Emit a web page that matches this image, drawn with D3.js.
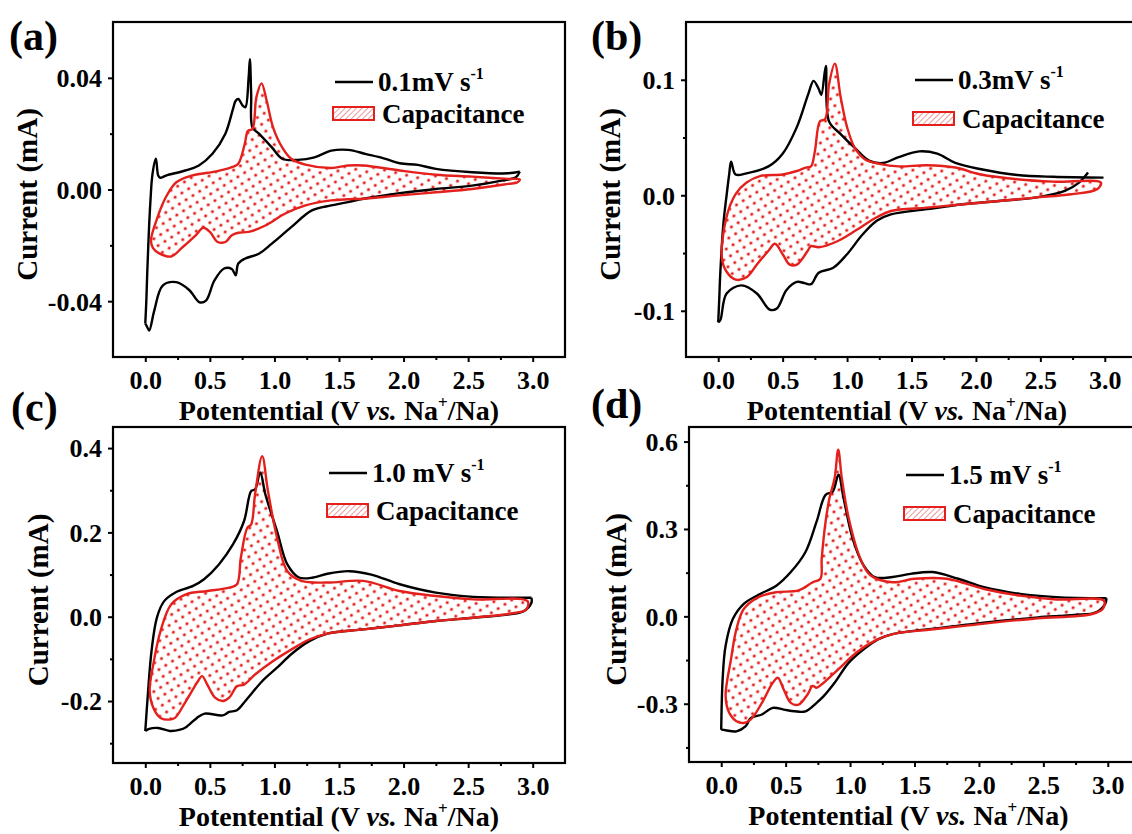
<!DOCTYPE html>
<html>
<head>
<meta charset="utf-8">
<script src="https://cdnjs.cloudflare.com/ajax/libs/d3/7.8.5/d3.min.js"></script>
<style>
    body { margin: 0; background: #fff; }
    svg text { font-family: "Liberation Serif", "Times New Roman", serif; font-weight: bold; fill: #000; }
</style>
</head>
<body>
<div id="graph"></div>
<script>
/*
    Data, pairs are [potential (V), current (mA)]
*/
var panelLabels = ["(a)", "(b)", "(c)", "(d)"]
var scanRates = ["0.1mV s", "0.3mV s", "1.0 mV s", "1.5 mV s"]
var xTicks = [0, 0.5, 1.0, 1.5, 2.0, 2.5, 3.0]
var xMinor = [0.25, 0.75, 1.25, 1.75, 2.25, 2.75]

var yTicksA = [-0.04, 0, 0.04], yMinorA = [-0.02, 0.02]
var yTicksB = [-0.1, 0, 0.1],   yMinorB = [-0.05, 0.05]
var yTicksC = [-0.2, 0, 0.2, 0.4], yMinorC = [-0.3, -0.1, 0.1, 0.3]
var yTicksD = [-0.3, 0, 0.3, 0.6], yMinorD = [-0.45, -0.15, 0.15, 0.45]

// (a) 0.1 mV/s
var cvUpperA = [[0,-0.048],[0.008,-0.04],[0.015,-0.03],[0.025,-0.018],[0.04,-0.004],[0.056,0.0056],[0.082,0.011],
    [0.1,0.005],[0.115,0.0042],[0.16,0.005],[0.31,0.0068],[0.415,0.0086],[0.52,0.0128],[0.62,0.020],[0.68,0.029],
    [0.70,0.0318],[0.72,0.0324],[0.755,0.030],[0.775,0.0295],[0.80,0.040],[0.81,0.0467],[0.82,0.034],[0.83,0.0222],
    [0.88,0.020],[0.98,0.0151],[1.06,0.011],[1.18,0.0106],[1.31,0.0115],[1.44,0.0139],[1.57,0.0142],[1.71,0.0127],
    [1.86,0.011],[1.97,0.0094],[2.11,0.0088],[2.25,0.0074],[2.53,0.0062],[2.81,0.0058],[2.9,0.0064]]
var cvLowerA = [[2.9,0.0064],[2.87,0.0044],[2.76,0.0032],[2.53,0.0014],[2.25,0.0002],[1.97,-0.0013],[1.69,-0.0033],
    [1.57,-0.0045],[1.44,-0.0057],[1.29,-0.0075],[1.13,-0.0135],[0.98,-0.0194],[0.88,-0.023],[0.77,-0.0248],
    [0.72,-0.0265],[0.70,-0.0307],[0.67,-0.0285],[0.61,-0.0283],[0.535,-0.0326],[0.47,-0.0398],[0.42,-0.0404],
    [0.34,-0.036],[0.24,-0.0332],[0.135,-0.0344],[0.07,-0.0433],[0.03,-0.0505],[0.012,-0.049],[0,-0.048]]
var capA = [[0.044,-0.0182],[0.095,-0.0099],[0.16,-0.0027],[0.24,0.0026],[0.36,0.005],[0.55,0.0065],[0.67,0.008],
    [0.72,0.0092],[0.77,0.0163],[0.795,0.021],[0.83,0.0217],[0.86,0.033],[0.90,0.038],[0.94,0.0318],[0.99,0.0222],
    [1.06,0.0151],[1.13,0.011],[1.24,0.0089],[1.44,0.0077],[1.57,0.0086],[1.69,0.0086],[1.97,0.0068],[2.25,0.0053],
    [2.53,0.0046],[2.81,0.0038],[2.9,0.0036],[2.88,0.0025],[2.81,0.002],[2.53,0.0002],[2.25,-0.001],[1.97,-0.0021],
    [1.69,-0.0033],[1.57,-0.0035],[1.44,-0.0039],[1.24,-0.0057],[1.08,-0.0087],[0.93,-0.0129],[0.80,-0.0152],
    [0.72,-0.0155],[0.67,-0.0164],[0.62,-0.0188],[0.56,-0.0188],[0.50,-0.0152],[0.45,-0.0137],[0.39,-0.0164],
    [0.29,-0.0206],[0.2,-0.024],[0.108,-0.0229],[0.06,-0.021]]

// (b) 0.3 mV/s
var cvUpperB = [[0,-0.110],[0.008,-0.09],[0.015,-0.07],[0.04,-0.025],[0.065,0.0],[0.085,0.018],[0.10,0.029],
    [0.135,0.018],[0.22,0.019],[0.39,0.025],[0.5,0.036],[0.61,0.059],[0.7,0.088],[0.74,0.099],[0.78,0.092],
    [0.8,0.087],[0.835,0.112],[0.86,0.064],[0.95,0.053],[1.06,0.041],[1.17,0.030],[1.28,0.028],[1.4,0.033],
    [1.56,0.038],[1.7,0.036],[1.84,0.028],[2.04,0.0225],[2.32,0.0176],[2.6,0.016],[2.99,0.0153]]
var cvLowerB = [[2.87,0.0197],[2.8,0.011],[2.69,0.0038],[2.46,-0.002],[2.18,-0.0049],[1.9,-0.0078],[1.62,-0.012],
    [1.34,-0.0165],[1.23,-0.022],[1.12,-0.034],[1.0,-0.051],[0.89,-0.063],[0.78,-0.067],[0.72,-0.077],[0.67,-0.076],
    [0.61,-0.075],[0.53,-0.082],[0.455,-0.098],[0.4,-0.099],[0.3,-0.085],[0.18,-0.078],[0.065,-0.085],[0.017,-0.108],[0,-0.110]]
var capB = [[0.028,-0.054],[0.064,-0.019],[0.135,0.001],[0.22,0.011],[0.33,0.0168],[0.5,0.018],[0.61,0.021],
    [0.68,0.024],[0.72,0.025],[0.75,0.038],[0.79,0.064],[0.83,0.066],[0.86,0.096],[0.905,0.114],[0.95,0.085],
    [1.0,0.059],[1.06,0.041],[1.14,0.031],[1.26,0.027],[1.4,0.025],[1.62,0.026],[1.84,0.024],[2.04,0.018],
    [2.32,0.0139],[2.6,0.0118],[2.97,0.011],[2.94,0.0052],[2.74,0.0009],[2.46,-0.002],[2.18,-0.0049],[1.9,-0.0078],
    [1.62,-0.0107],[1.34,-0.0136],[1.23,-0.019],[1.06,-0.031],[0.92,-0.04],[0.78,-0.045],[0.72,-0.044],
    [0.695,-0.048],[0.61,-0.06],[0.555,-0.06],[0.5,-0.051],[0.44,-0.042],[0.39,-0.048],[0.3,-0.06],[0.22,-0.071],
    [0.135,-0.073],[0.064,-0.066]]

// (c) 1.0 mV/s
var cvUpperC = [[0,-0.271],[0.02,-0.184],[0.048,-0.082],[0.09,-0.002],[0.146,0.037],[0.23,0.057],[0.37,0.073],
    [0.455,0.089],[0.57,0.124],[0.68,0.172],[0.765,0.227],[0.82,0.298],[0.85,0.302],[0.89,0.342],[0.93,0.29],
    [1.02,0.203],[1.1,0.124],[1.19,0.093],[1.3,0.093],[1.41,0.102],[1.58,0.108],[1.75,0.1],[1.97,0.077],
    [2.25,0.057],[2.54,0.047],[2.99,0.045]]
var cvLowerC = [[2.99,0.045],[2.99,0.033],[2.93,0.013],[2.82,0.0055],[2.54,-0.0024],[2.25,-0.0103],[1.97,-0.0206],
    [1.69,-0.03],[1.41,-0.04],[1.27,-0.058],[1.13,-0.089],[1.02,-0.121],[0.905,-0.153],[0.78,-0.198],[0.71,-0.222],
    [0.65,-0.226],[0.6,-0.234],[0.46,-0.23],[0.4,-0.24],[0.315,-0.262],[0.27,-0.268],[0.19,-0.271],[0.1,-0.264],
    [0.03,-0.266],[0,-0.271]]
var capC = [[0.034,-0.176],[0.062,-0.113],[0.118,-0.034],[0.2,0.029],[0.315,0.053],[0.48,0.061],[0.65,0.069],
    [0.71,0.077],[0.74,0.14],[0.79,0.211],[0.82,0.219],[0.85,0.29],[0.905,0.381],[0.95,0.298],[1.02,0.188],
    [1.1,0.108],[1.21,0.085],[1.41,0.081],[1.69,0.085],[1.97,0.061],[2.25,0.049],[2.54,0.041],[2.96,0.037],
    [2.95,0.017],[2.87,0.0095],[2.54,-0.0024],[2.25,-0.0103],[1.97,-0.0206],[1.69,-0.03],[1.41,-0.04],
    [1.27,-0.054],[1.13,-0.078],[0.99,-0.105],[0.85,-0.137],[0.765,-0.161],[0.71,-0.165],[0.65,-0.192],
    [0.6,-0.2],[0.54,-0.192],[0.48,-0.161],[0.44,-0.141],[0.4,-0.157],[0.315,-0.2],[0.23,-0.24],[0.19,-0.244],
    [0.118,-0.24],[0.062,-0.216]]

// (d) 1.5 mV/s
var cvUpperD = [[0,-0.389],[0.011,-0.216],[0.034,-0.101],[0.09,-0.009],[0.175,0.043],[0.29,0.074],[0.43,0.106],
    [0.54,0.152],[0.654,0.221],[0.74,0.325],[0.81,0.417],[0.865,0.428],[0.91,0.486],[0.95,0.405],[1.02,0.267],
    [1.105,0.175],[1.19,0.135],[1.33,0.135],[1.47,0.146],[1.64,0.152],[1.84,0.129],[2.04,0.1],[2.32,0.077],
    [2.6,0.066],[2.99,0.062]]
var cvLowerD = [[2.99,0.062],[2.98,0.043],[2.91,0.014],[2.74,0.0046],[2.46,-0.0035],[2.18,-0.015],[1.9,-0.029],
    [1.61,-0.044],[1.33,-0.061],[1.22,-0.078],[1.105,-0.113],[0.99,-0.159],[0.88,-0.228],[0.795,-0.274],
    [0.74,-0.297],[0.654,-0.326],[0.57,-0.326],[0.485,-0.32],[0.4,-0.314],[0.316,-0.337],[0.23,-0.349],
    [0.19,-0.377],[0.118,-0.395],[0.034,-0.391],[0,-0.389]]
var capD = [[0.034,-0.274],[0.076,-0.147],[0.118,-0.044],[0.175,0.025],[0.29,0.066],[0.43,0.083],[0.6,0.089],
    [0.71,0.117],[0.77,0.129],[0.78,0.198],[0.81,0.325],[0.84,0.405],[0.88,0.474],[0.908,0.572],[0.936,0.474],
    [0.99,0.336],[1.08,0.198],[1.16,0.14],[1.33,0.117],[1.5,0.129],[1.75,0.129],[2.04,0.094],[2.32,0.071],
    [2.6,0.058],[2.97,0.054],[2.96,0.025],[2.88,0.008],[2.46,-0.007],[2.18,-0.018],[1.9,-0.032],[1.61,-0.046],
    [1.33,-0.061],[1.19,-0.084],[1.05,-0.124],[0.908,-0.182],[0.795,-0.228],[0.74,-0.245],[0.71,-0.239],
    [0.67,-0.268],[0.6,-0.303],[0.54,-0.297],[0.485,-0.251],[0.44,-0.211],[0.4,-0.228],[0.316,-0.297],
    [0.23,-0.354],[0.175,-0.366],[0.118,-0.36],[0.062,-0.331]]

/*
    Panel layout (pixels) and per panel settings
*/
var panels = [
    { label: panelLabels[0], rate: scanRates[0], upper: cvUpperA, lower: cvLowerA, cap: capA,
      yDomain: [-0.06, 0.06], yTicks: yTicksA, yMinor: yMinorA, yFmt: ".2f",
      left: 113, right: 565, top: 22, bottom: 357, ylabX: 37, labX: 9, labY: 50,
      legX: 335, legY: 82, boxY: 107 },
    { label: panelLabels[1], rate: scanRates[1], upper: cvUpperB, lower: cvLowerB, cap: capB,
      yDomain: [-0.14, 0.15], yTicks: yTicksB, yMinor: yMinorB, yFmt: ".1f",
      left: 686, right: 1137, top: 22, bottom: 357, ylabX: 620, labX: 591, labY: 50,
      legX: 915, legY: 80, boxY: 112 },
    { label: panelLabels[2], rate: scanRates[2], upper: cvUpperC, lower: cvLowerC, cap: capC,
      yDomain: [-0.347, 0.45], yTicks: yTicksC, yMinor: yMinorC, yFmt: ".1f",
      left: 113, right: 565, top: 427, bottom: 763, ylabX: 48, labX: 11, labY: 421,
      legX: 329, legY: 473, boxY: 504 },
    { label: panelLabels[3], rate: scanRates[3], upper: cvUpperD, lower: cvLowerD, cap: capD,
      yDomain: [-0.5, 0.65], yTicks: yTicksD, yMinor: yMinorD, yFmt: ".1f",
      left: 689, right: 1140, top: 427, bottom: 762, ylabX: 626, labX: 591, labY: 418,
      legX: 906, legY: 475, boxY: 507 }
]

var red = "#e3201c"
var locale = d3.formatLocale({ decimal: ".", thousands: ",", grouping: [3], currency: ["", ""], minus: "-" })

var svg = d3.select("#graph").append("svg")
    .attr("width", 1132)
    .attr("height", 834)

svg.append("rect").attr("width", 1132).attr("height", 834).attr("fill", "#fff")

var defs = svg.append("defs")

// dotted fill of the capacitive area
var dots = defs.append("pattern")
    .attr("id", "dots")
    .attr("patternUnits", "userSpaceOnUse")
    .attr("width", 8)
    .attr("height", 8)
    .attr("patternTransform", "rotate(-32)")
dots.append("rect").attr("width", 8).attr("height", 8).attr("fill", "#fff")
dots.append("circle").attr("cx", 4).attr("cy", 4).attr("r", 1.6).attr("fill", red)

// hatch for the legend box
var hatch = defs.append("pattern")
    .attr("id", "hatch")
    .attr("patternUnits", "userSpaceOnUse")
    .attr("width", 4)
    .attr("height", 4)
    .attr("patternTransform", "rotate(45)")
hatch.append("rect").attr("width", 4).attr("height", 4).attr("fill", "#fff")
hatch.append("line").attr("x1", 0).attr("y1", 0).attr("x2", 0).attr("y2", 4)
    .attr("stroke", "#e88080").attr("stroke-width", 1.6)

function drawPanel(p, i) {
    var g = svg.append("g")

    var x = d3.scaleLinear().domain([-0.25, 3.25]).range([p.left, p.right]),
        y = d3.scaleLinear().domain(p.yDomain).range([p.bottom, p.top])

    var openLine = d3.line()
        .x(function( d ) { return x(d[0]) })
        .y(function( d ) { return y(d[1]) })
        .curve(d3.curveCatmullRom.alpha(0.5))

    var closedLine = d3.line()
        .x(function( d ) { return x(d[0]) })
        .y(function( d ) { return y(d[1]) })
        .curve(d3.curveCatmullRomClosed.alpha(0.5))

    // capacitive area
    g.append("path")
        .attr("d", closedLine(p.cap))
        .attr("fill", "url(#dots)")
        .attr("stroke", "none")

    // total CV
    g.selectAll("path.cv")
        .data([p.upper, p.lower])
        .enter()
        .append("path")
        .attr("class", "cv")
        .attr("d", openLine)
        .attr("fill", "none")
        .attr("stroke", "#000")
        .attr("stroke-width", 2.4)
        .attr("stroke-linejoin", "round")

    g.append("path")
        .attr("d", closedLine(p.cap))
        .attr("fill", "none")
        .attr("stroke", red)
        .attr("stroke-width", 2.4)
        .attr("stroke-linejoin", "round")

    // frame
    g.append("rect")
        .attr("x", p.left)
        .attr("y", p.top)
        .attr("width", p.right - p.left)
        .attr("height", p.bottom - p.top)
        .attr("fill", "none")
        .attr("stroke", "#000")
        .attr("stroke-width", 2.2)

    // axes
    var xAxis = g.append("g")
        .attr("transform", "translate(0," + p.bottom + ")")
        .call(d3.axisBottom(x).tickValues(xTicks).tickSize(5).tickPadding(4)
            .tickFormat(d3.format(".1f")))
    xAxis.selectAll("text").attr("y", 32).attr("dy", null).style("font-size", "26px")

    g.append("g")
        .attr("transform", "translate(0," + p.bottom + ")")
        .call(d3.axisBottom(x).tickValues(xMinor).tickSize(3).tickFormat(""))

    var yAxis = g.append("g")
        .attr("transform", "translate(" + p.left + ",0)")
        .call(d3.axisLeft(y).tickValues(p.yTicks).tickSize(5).tickPadding(6)
            .tickFormat(locale.format(p.yFmt)))
    yAxis.selectAll("text").attr("dy", "0.34em").style("font-size", "26px")

    g.append("g")
        .attr("transform", "translate(" + p.left + ",0)")
        .call(d3.axisLeft(y).tickValues(p.yMinor).tickSize(3).tickFormat(""))

    g.selectAll(".domain").remove()
    g.selectAll(".tick line").attr("stroke-width", 2)
    g.selectAll(".tick text").attr("font-family", null)

    // axis titles
    var xt = g.append("text")
        .attr("x", (p.left + Math.min(p.right, 1132)) / 2 + (i % 2 ? -2 : 0))
        .attr("y", p.bottom + 63)
        .attr("text-anchor", "middle")
        .style("font-size", "28px")
    xt.append("tspan").text("Potentential (V ")
    xt.append("tspan").style("font-style", "italic").text("vs.")
    xt.append("tspan").text(" Na")
    xt.append("tspan").attr("dy", -12).style("font-size", "17px").text("+")
    xt.append("tspan").attr("dy", 12).text("/Na)")

    g.append("text")
        .attr("transform", "translate(" + p.ylabX + "," + ((p.top + p.bottom) / 2 + 5) + ") rotate(-90)")
        .attr("text-anchor", "middle")
        .style("font-size", "29px")
        .text("Current (mA)")

    // panel letter
    g.append("text")
        .attr("x", p.labX)
        .attr("y", p.labY)
        .style("font-size", "42px")
        .text(p.label)

    // legend
    g.append("line")
        .attr("x1", p.legX).attr("x2", p.legX + 38)
        .attr("y1", p.legY).attr("y2", p.legY)
        .attr("stroke", "#000").attr("stroke-width", 2.4)
    var lt = g.append("text")
        .attr("x", p.legX + 43)
        .attr("y", p.legY + 9)
        .style("font-size", "27px")
    lt.append("tspan").text(p.rate)
    lt.append("tspan").attr("dy", -12).style("font-size", "16px").text("-1")

    g.append("rect")
        .attr("x", p.legX - 2).attr("y", p.boxY)
        .attr("width", 41).attr("height", 13)
        .attr("fill", "url(#hatch)")
        .attr("stroke", red).attr("stroke-width", 2)
    g.append("text")
        .attr("x", p.legX + 47)
        .attr("y", p.boxY + 16)
        .style("font-size", "27px")
        .text("Capacitance")
}

panels.forEach(drawPanel)
</script>
</body>
</html>
